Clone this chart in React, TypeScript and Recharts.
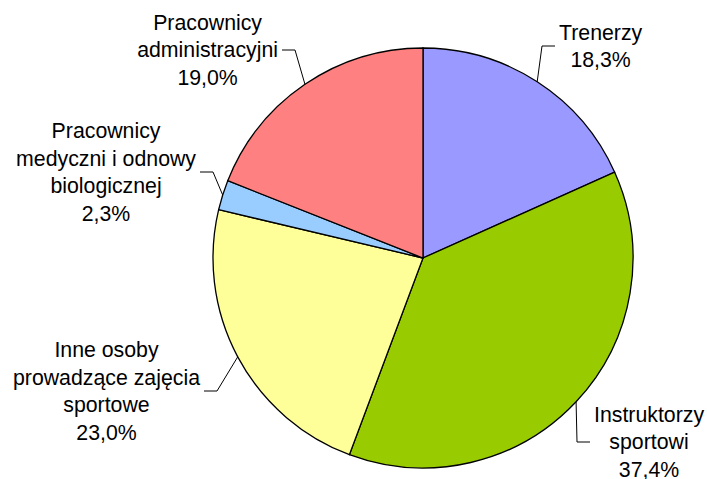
import React from "react";
import { PieChart, Pie, Cell } from "recharts";

// Categories (line breaks as in the original labels)
const categories = [
  "Trenerzy",
  "Instruktorzy\nsportowi",
  "Inne osoby\nprowadzące zajęcia\nsportowe",
  "Pracownicy\nmedyczni i odnowy\nbiologicznej",
  "Pracownicy\nadministracyjni",
];

// Share of employees, %
const shares = [18.3, 37.4, 23.0, 2.3, 19.0];

const sliceColors = ["#9999FF", "#99CC00", "#FFFF99", "#99CCFF", "#FF8080"];

// Leader line elbow, offset from the pie centre
const leaderElbows = [
  [119, -212],
  [154, 184],
  [-206, 133],
  [-210, -86],
  [-128, -208],
];

const data = categories.map((name, i) => ({ name, value: shares[i] }));

const FONT = "'Liberation Sans', Arial, sans-serif";
const FONT_SIZE = 21.3;
const LINE_H = 27.7;
const RAD = Math.PI / 180;

let ctx: CanvasRenderingContext2D | null = null;
const measure = (t: string) => {
  if (!ctx) {
    ctx = document.createElement("canvas").getContext("2d");
  }
  if (!ctx) return t.length * FONT_SIZE * 0.5;
  ctx.font = `${FONT_SIZE}px 'Liberation Sans'`;
  return ctx.measureText(t).width;
};

const renderLabel = (props: any) => {
  const { cx, cy, midAngle, outerRadius, index, value } = props;
  const ex = cx + outerRadius * Math.cos(-midAngle * RAD);
  const ey = cy + outerRadius * Math.sin(-midAngle * RAD);
  const [dx, dy] = leaderElbows[index];
  const bx = cx + dx;
  const by = cy + dy;
  const dir = dx > 0 ? 1 : -1;
  const hx = bx + dir * 13;
  const pct = value.toFixed(1).replace(".", ",") + "%";
  const lines = [...categories[index].split("\n"), pct];
  const w = Math.max(...lines.map(measure));
  const tx = hx + dir * (4 + w / 2);
  const top = by - ((lines.length - 1) * LINE_H) / 2;
  return (
    <g key={`lbl-${index}`}>
      <polyline
        points={`${ex},${ey} ${bx},${by} ${hx},${by}`}
        fill="none"
        stroke="#000"
        strokeWidth={1}
      />
      <text
        x={tx}
        textAnchor="middle"
        fontSize={FONT_SIZE}
        fontFamily={FONT}
        fill="#000"
      >
        {lines.map((l, i) => (
          <tspan key={i} x={tx} y={top + i * LINE_H} dy="0.35em">
            {l}
          </tspan>
        ))}
      </text>
    </g>
  );
};

const App: React.FC = () => {
  return (
    <div style={{ position: "absolute", left: 0, top: 0, background: "#fff" }}>
      <PieChart
        width={707}
        height={479}
        margin={{ top: 0, right: 0, bottom: 0, left: 0 }}
      >
        <Pie
          data={data}
          dataKey="value"
          nameKey="name"
          cx={423}
          cy={258}
          outerRadius={210}
          startAngle={90}
          endAngle={-270}
          stroke="#000"
          strokeWidth={1.3}
          label={renderLabel}
          labelLine={false}
          isAnimationActive={false}
        >
          {data.map((entry, index) => (
            <Cell key={`cell-${index}`} fill={sliceColors[index]} />
          ))}
        </Pie>
      </PieChart>
    </div>
  );
};

export default App;
